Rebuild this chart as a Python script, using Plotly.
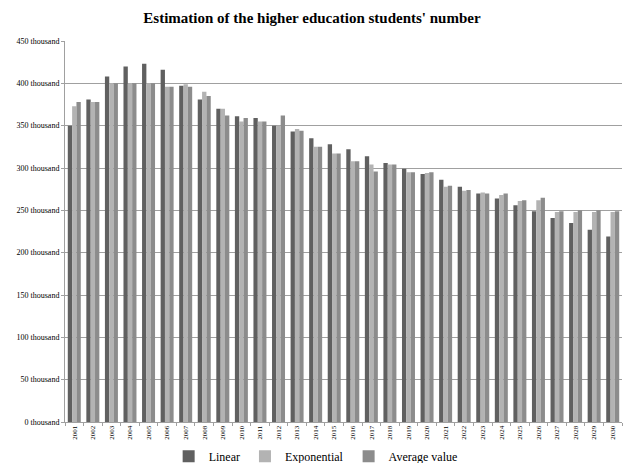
import plotly.graph_objects as go

years = [str(y) for y in range(2001, 2031)]
linear = [350, 381, 408, 420, 423, 416, 397, 381, 370, 361, 359, 350, 343, 335, 328, 322, 314, 306, 299, 293,
          286, 278, 270, 264, 256, 249, 241, 235, 227, 219]
exponential = [373, 378, 400, 400, 400, 396, 399, 390, 370, 355, 355, 350, 346, 325, 317, 308, 304, 304, 295, 294,
               278, 273, 271, 268, 261, 262, 248, 248, 248, 248]
average = [378, 378, 400, 400, 400, 396, 396, 385, 362, 359, 355, 362, 344, 325, 317, 308, 296, 304, 295, 295,
           279, 274, 270, 270, 262, 265, 249, 250, 250, 249]
tick_vals = list(range(0, 451, 50))
tick_text = [f"{v} thousand" for v in tick_vals]

series = [("Linear", linear, "#606060"), ("Exponential", exponential, "#b3b3b3"), ("Average value", average, "#8c8c8c")]

fig = go.Figure()
for name, vals, col in series:
    fig.add_trace(go.Bar(x=years, y=vals, name=name, marker=dict(color=col, line=dict(width=0))))

serif = "Liberation Serif"
fig.update_layout(
    width=624, height=463,
    margin=dict(l=65, r=2, t=41, b=41, autoexpand=False),
    paper_bgcolor="white", plot_bgcolor="white",
    barmode="group", bargap=0.3, bargroupgap=0,
    title=dict(text="<b>Estimation of the higher education students' number</b>",
               x=0.5, xanchor="center", y=0.962, yanchor="middle",
               font=dict(family=serif, size=15, color="#000")),
    font=dict(family=serif, color="#000"),
    showlegend=True,
    legend=dict(orientation="h", x=0.45, xanchor="center", y=-0.052, yanchor="top",
                font=dict(family=serif, size=12), traceorder="normal",
                itemwidth=30, bgcolor="rgba(0,0,0,0)", tracegroupgap=0),
)
fig.update_yaxes(range=[0, 450], tickvals=tick_vals, ticktext=tick_text, automargin=False,
                 tickfont=dict(family=serif, size=8), showgrid=True, gridcolor="#a0a0a0", gridwidth=1,
                 showline=True, linecolor="#a0a0a0", linewidth=1, ticks="outside", ticklen=3,
                 tickcolor="#a0a0a0", zeroline=False)
fig.update_xaxes(tickangle=-90, tickfont=dict(family=serif, size=7), showline=True, linecolor="#a0a0a0",
                 linewidth=1, ticks="outside", ticklen=3, tickcolor="#a0a0a0", tickson="boundaries",
                 showgrid=False, automargin=False)

fig.write_html("out.html")
